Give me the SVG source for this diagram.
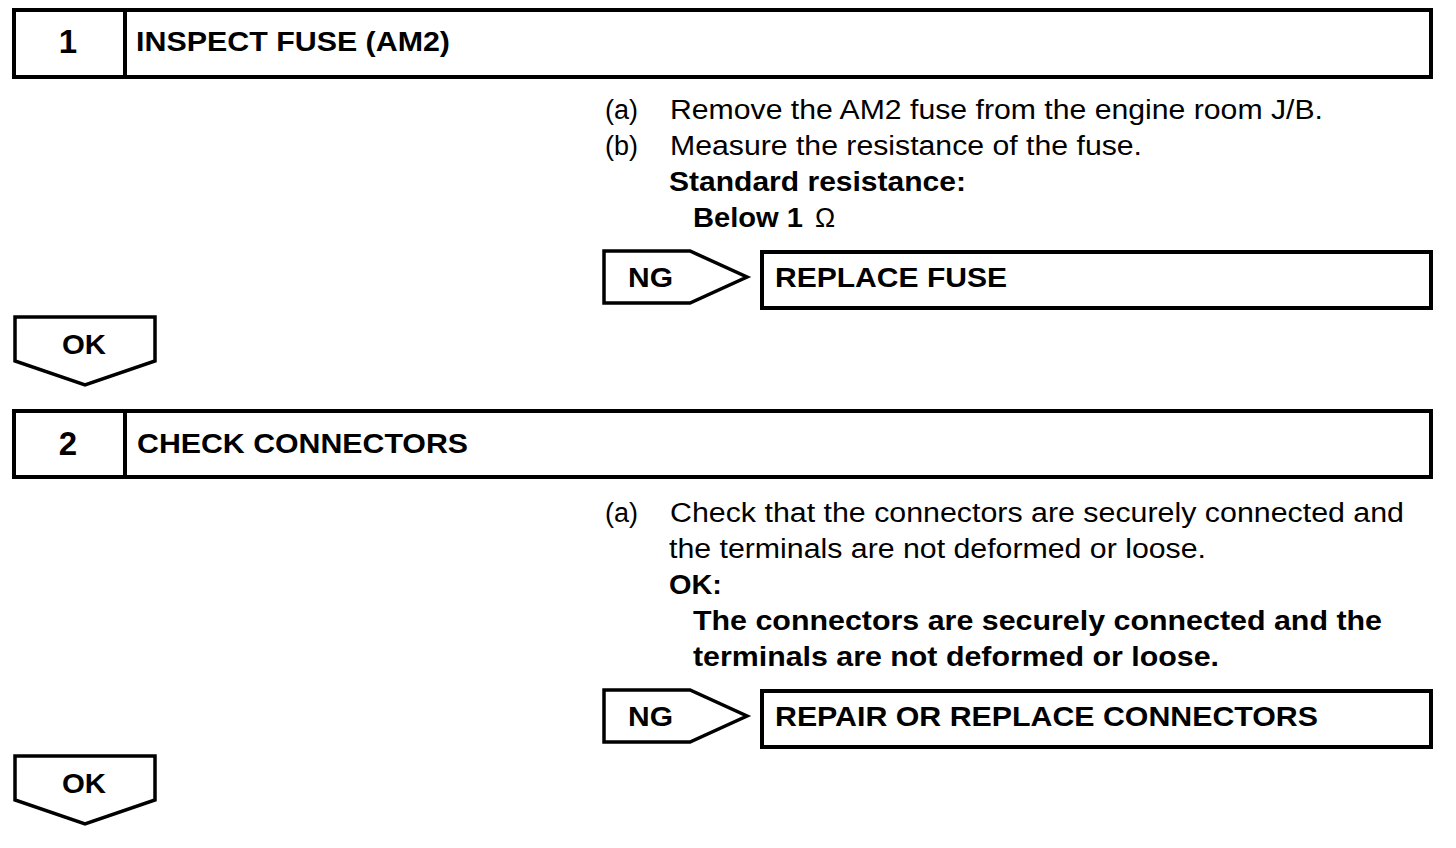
<svg xmlns="http://www.w3.org/2000/svg" width="1456" height="848" viewBox="0 0 1456 848">
<style>
.box{fill:#fff;stroke:#000;stroke-width:4}
.sh{fill:#fff;stroke:#000;stroke-width:3.5;stroke-linejoin:miter}
text{font-family:"Liberation Sans",Arial,sans-serif;fill:#000}
.h{font-size:28px;font-weight:bold}
.n{font-size:33px;font-weight:bold}
.r{font-size:27px}
.b{font-size:27px;font-weight:bold}
</style>
<rect width="1456" height="848" fill="#fff"/>
<g id="step1">
<rect class="box" x="14" y="10" width="1417" height="67"/>
<line x1="125" y1="10" x2="125" y2="77" stroke="#000" stroke-width="4"/>
<text class="n" x="68" y="53" text-anchor="middle">1</text>
<text class="h" x="136" y="51" textLength="314" lengthAdjust="spacingAndGlyphs">INSPECT FUSE (AM2)</text>
</g>
<g id="step1-text">
<text class="r" x="605" y="119">(a)</text>
<text class="r" x="670" y="119" textLength="653" lengthAdjust="spacingAndGlyphs">Remove the AM2 fuse from the engine room J/B.</text>
<text class="r" x="605" y="155">(b)</text>
<text class="r" x="670" y="155" textLength="472" lengthAdjust="spacingAndGlyphs">Measure the resistance of the fuse.</text>
<text class="b" x="669" y="191" textLength="297" lengthAdjust="spacingAndGlyphs">Standard resistance:</text>
<text class="b" x="693" y="227" textLength="110" lengthAdjust="spacingAndGlyphs">Below 1</text>
<text class="r" x="815" y="227">Ω</text>
</g>
<g id="ng1">
<polygon class="sh" points="604,251 690,251 747,277 690,303 604,303"/>
<text class="h" x="628" y="287" textLength="45" lengthAdjust="spacingAndGlyphs">NG</text>
</g>
<g id="replace-fuse">
<rect class="box" x="762" y="252" width="669" height="56"/>
<text class="h" x="775" y="287" textLength="232" lengthAdjust="spacingAndGlyphs">REPLACE FUSE</text>
</g>
<g id="ok1">
<polygon class="sh" points="15,317 155,317 155,361 85,385 15,361"/>
<text class="h" x="62" y="354" textLength="44" lengthAdjust="spacingAndGlyphs">OK</text>
</g>
<g id="step2">
<rect class="box" x="14" y="411" width="1417" height="66"/>
<line x1="125" y1="411" x2="125" y2="477" stroke="#000" stroke-width="4"/>
<text class="n" x="68" y="455" text-anchor="middle">2</text>
<text class="h" x="137" y="453" textLength="331" lengthAdjust="spacingAndGlyphs">CHECK CONNECTORS</text>
</g>
<g id="step2-text">
<text class="r" x="605" y="522">(a)</text>
<text class="r" x="670" y="522" textLength="734" lengthAdjust="spacingAndGlyphs">Check that the connectors are securely connected and</text>
<text class="r" x="669" y="558" textLength="537" lengthAdjust="spacingAndGlyphs">the terminals are not deformed or loose.</text>
<text class="b" x="669" y="594" textLength="53" lengthAdjust="spacingAndGlyphs">OK:</text>
<text class="b" x="693" y="630" textLength="689" lengthAdjust="spacingAndGlyphs">The connectors are securely connected and the</text>
<text class="b" x="693" y="666" textLength="526" lengthAdjust="spacingAndGlyphs">terminals are not deformed or loose.</text>
</g>
<g id="ng2">
<polygon class="sh" points="604,690 690,690 747,716 690,742 604,742"/>
<text class="h" x="628" y="726" textLength="45" lengthAdjust="spacingAndGlyphs">NG</text>
</g>
<g id="repair-connectors">
<rect class="box" x="762" y="691" width="669" height="56"/>
<text class="h" x="775" y="726" textLength="543" lengthAdjust="spacingAndGlyphs">REPAIR OR REPLACE CONNECTORS</text>
</g>
<g id="ok2">
<polygon class="sh" points="15,756 155,756 155,800 85,824 15,800"/>
<text class="h" x="62" y="793" textLength="44" lengthAdjust="spacingAndGlyphs">OK</text>
</g>
<g id="connectors"></g>
</svg>
